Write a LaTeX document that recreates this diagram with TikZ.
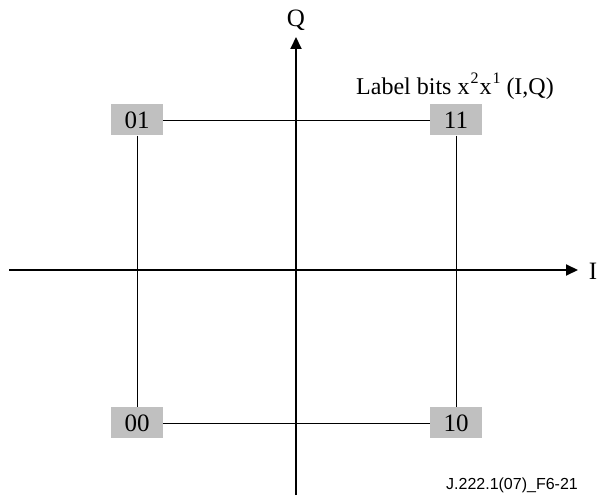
\documentclass[tikz,border=0pt]{standalone}
\usepackage{fontspec}
\setmainfont{Liberation Serif}
\newfontfamily\arialfont{Liberation Sans}
\usetikzlibrary{arrows.meta}
\begin{document}
\begin{tikzpicture}[x=1pt,y=-1pt,
  axis/.style={line width=2pt,-{Triangle[length=12pt,width=11pt]}},
  thin/.style={line width=0.9pt},
  pt/.style={fill={rgb,255:red,192;green,192;blue,192},minimum width=52pt,minimum height=31pt,inner sep=0pt,font=\fontsize{25}{25}\selectfont},
  lbl/.style={inner sep=0pt,font=\fontsize{25}{25}\selectfont}]
\useasboundingbox (0,0) rectangle (600,502);
\coordinate (xl) at (9,270);
\coordinate (xr) at (578,270);
\coordinate (yb) at (296,495);
\coordinate (yt) at (296,37);
\node[pt] (p01) at (137,120) {01};
\node[pt] (p11) at (456,120) {11};
\node[pt] (p00) at (137,423) {00};
\node[pt] (p10) at (456,423) {10};
\draw[thin] (p01) -- (p11);
\draw[thin] (p00) -- (p10);
\draw[thin] (p01) -- (p00);
\draw[thin] (p11) -- (p10);
\draw[axis] (xl) -- (xr);
\draw[axis] (yb) -- (yt);
\node[lbl] (ql) at (296,20) {Q};
\node[lbl] (il) at (593,271) {I};
\node[lbl,font=\fontsize{24}{24}\selectfont] (lab) at (455,86) {Label bits x\kern1pt\raisebox{11pt}{\fontsize{16}{16}\selectfont 2}\kern1pt x\kern1pt\raisebox{11pt}{\fontsize{16}{16}\selectfont 1} (I,Q)};
\node[inner sep=0pt,font=\arialfont\fontsize{16}{16}\selectfont] (ref) at (512,485) {J.222.1(07)\_F6-21};
\end{tikzpicture}
\end{document}
